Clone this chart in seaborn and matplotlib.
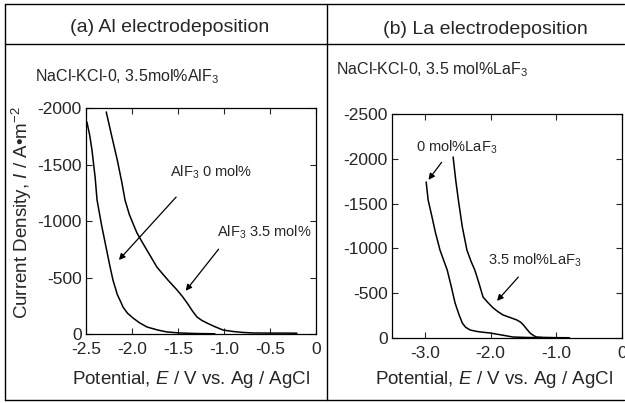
import matplotlib
matplotlib.use("Agg")
import matplotlib.pyplot as plt
import seaborn as sns
import pandas as pd
from matplotlib.lines import Line2D

# (a) Al electrodeposition, potential in V vs Ag/AgCl, current density in A/m2
al_0_E = [-2.49, -2.46, -2.435, -2.40, -2.38, -2.33, -2.28, -2.24, -2.207, -2.16, -2.12,
          -2.098, -2.05, -1.99, -1.92, -1.837, -1.72, -1.62, -1.48, -1.30, -1.10]
al_0_I = [-1876, -1760, -1628, -1380, -1186, -960, -760, -600, -478, -350, -280,
          -239, -185, -142, -100, -62, -35, -18, -9, -4, -2]
al_35_E = [-2.28, -2.22, -2.16, -2.11, -2.076, -2.03, -1.98, -1.946, -1.88, -1.80, -1.73,
           -1.67, -1.61, -1.51, -1.45, -1.40, -1.34, -1.293, -1.24, -1.185, -1.10, -1.01,
           -0.90, -0.80, -0.685, -0.50, -0.35, -0.207]
al_35_I = [-1965, -1750, -1540, -1340, -1186, -1060, -960, -894, -800, -690, -593,
           -535, -478, -389, -330, -274, -200, -150, -120, -97, -65, -35,
           -22, -14, -9, -8, -8, -7]

# (b) La electrodeposition
la_0_E = [-2.98, -2.95, -2.90, -2.84, -2.77, -2.71, -2.66, -2.60, -2.54, -2.48, -2.43,
          -2.38, -2.31, -2.20, -2.10, -2.01, -1.85, -1.66, -1.45, -1.20, -0.90]
la_0_I = [-1741, -1540, -1380, -1180, -982, -860, -759, -580, -390, -260, -167,
          -120, -89, -72, -63, -56, -36, -11, -6, -4, -2]
la_35_E = [-2.57, -2.53, -2.49, -2.43, -2.36, -2.30, -2.24, -2.18, -2.115, -2.04, -1.96,
           -1.88, -1.81, -1.70, -1.60, -1.54, -1.50, -1.45, -1.40, -1.34, -1.30, -1.20,
           -1.05, -0.80]
la_35_I = [-2020, -1760, -1540, -1240, -982, -860, -759, -620, -458, -395, -335,
           -290, -257, -228, -201, -175, -145, -100, -56, -25, -11, -6,
           -4, -3]

ticks_a = [-2.5, -2.0, -1.5, -1.0, -0.5, 0]
ticklabels_a = ["-2.5", "-2.0", "-1.5", "-1.0", "-0.5", "0"]
ticks_b = [-3.0, -2.0, -1.0, 0]
ticklabels_b = ["-3.0", "-2.0", "-1.0", "0"]
yticks_a = [0, -500, -1000, -1500, -2000]
yticks_b = [0, -500, -1000, -1500, -2000, -2500]

sns.set_style("ticks")
plt.rcParams['font.family'] = ['Liberation Sans', 'DejaVu Sans']
plt.rcParams['mathtext.fontset'] = 'custom'
plt.rcParams['mathtext.rm'] = 'Liberation Sans'
plt.rcParams['mathtext.it'] = 'Liberation Sans:italic'
plt.rcParams['xtick.direction'] = 'in'
plt.rcParams['ytick.direction'] = 'in'


def make_df(series):
    rows = []
    for name, E, I in series:
        for e, i in zip(E, I):
            rows.append({'E': e, 'I': i, 'series': name})
    return pd.DataFrame(rows)


df_a = make_df([('0', al_0_E, al_0_I), ('3.5', al_35_E, al_35_I)])
df_b = make_df([('0', la_0_E, la_0_I), ('3.5', la_35_E, la_35_I)])

fig = plt.figure(figsize=(6.25, 4.03), dpi=100)
ax1 = fig.add_axes([86 / 625, 1 - 334 / 403, 230 / 625, 226 / 403])
ax2 = fig.add_axes([392 / 625, 1 - 338 / 403, 230 / 625, 224 / 403])

pal = {'0': 'black', '3.5': 'black'}
sns.lineplot(data=df_a, x='E', y='I', hue='series', palette=pal, estimator=None,
             legend=False, linewidth=1.1, ax=ax1)
sns.lineplot(data=df_b, x='E', y='I', hue='series', palette=pal, estimator=None,
             legend=False, linewidth=1.1, ax=ax2)

ax1.set_xlim(-2.5, 0)
ax1.set_ylim(0, -2000)
ax1.set_xticks(ticks_a)
ax1.set_xticklabels(ticklabels_a)
ax1.set_yticks(yticks_a)
ax1.set_yticklabels([str(v) for v in yticks_a])

ax2.set_xlim(-3.5, 0)
ax2.set_ylim(0, -2500)
ax2.set_xticks(ticks_b)
ax2.set_xticklabels(ticklabels_b)
ax2.set_yticks(yticks_b)
ax2.set_yticklabels([str(v) for v in yticks_b])

for ax in (ax1, ax2):
    ax.tick_params(top=True, right=True, labelsize=12.5, length=4, width=0.8)
    ax.tick_params(axis='x', pad=6)
    ax.tick_params(axis='y', pad=3)
    for s in ax.spines.values():
        s.set_linewidth(0.9)
        s.set_color('black')
    ax.set_xlabel("Potential, $E$ / V vs. Ag / AgCl", fontsize=13.5, va='center')
    ax.set_ylabel("")

# labels sit a little left of the axes centre in the original
ax1.xaxis.set_label_coords((191 - 86) / 230, -(380 - 334) / 226)
ax2.xaxis.set_label_coords((494 - 392) / 230, -(380 - 338) / 224)

ax1.set_ylabel("Current Density, $I$ / A\u2022m$^{-2}$", fontsize=13.5, va='center')
ax1.yaxis.set_label_coords(-(86 - 22) / 230, (334 - 213) / 226)

# arrows and labels
arrow = dict(arrowstyle='-|>', color='black', lw=0.9, mutation_scale=9)
ax1.annotate("", xy=(-2.163, -637), xytext=(-1.50, -1230), arrowprops=arrow)
ax1.text(-1.14, -1430, "AlF$_3$ 0 mol%", fontsize=10.5, ha='center', va='center')
ax1.annotate("", xy=(-1.435, -363), xytext=(-1.04, -770), arrowprops=arrow)
ax1.text(-0.56, -900, "AlF$_3$ 3.5 mol%", fontsize=10.5, ha='center', va='center')

ax2.annotate("", xy=(-2.97, -1741), xytext=(-2.72, -1985), arrowprops=arrow)
ax2.text(-2.52, -2130, "0 mol%LaF$_3$", fontsize=10.5, ha='center', va='center')
ax2.annotate("", xy=(-1.93, -391), xytext=(-1.55, -703), arrowprops=arrow)
ax2.text(-1.32, -870, "3.5 mol%LaF$_3$", fontsize=10.5, ha='center', va='center')

# panel titles and frame
fig.text(170 / 625, 1 - 28 / 403, "(a) Al electrodeposition", fontsize=14, ha='center', va='center')
fig.text(485 / 625, 1 - 30 / 403, "(b) La electrodeposition", fontsize=14, ha='center', va='center')
fig.text(35 / 625, 1 - 77 / 403, "NaCl-KCl-0, 3.5mol%AlF$_3$", fontsize=11.5, ha='left', va='center')
fig.text(336 / 625, 1 - 70 / 403, "NaCl-KCl-0, 3.5 mol%LaF$_3$", fontsize=11.5, ha='left', va='center')

frame = dict(color='black', lw=1.0, transform=fig.transFigure)
fig.add_artist(Line2D([5 / 625, 624 / 625], [1 - 4 / 403, 1 - 4 / 403], **frame))
fig.add_artist(Line2D([5 / 625, 624 / 625], [1 - 400 / 403, 1 - 400 / 403], **frame))
fig.add_artist(Line2D([5 / 625, 5 / 625], [1 - 4 / 403, 1 - 400 / 403], **frame))
fig.add_artist(Line2D([5 / 625, 624 / 625], [1 - 44 / 403, 1 - 44 / 403], **frame))
fig.add_artist(Line2D([327 / 625, 327 / 625], [1 - 4 / 403, 1 - 400 / 403], **frame))

fig.savefig("out.png", dpi=100)
